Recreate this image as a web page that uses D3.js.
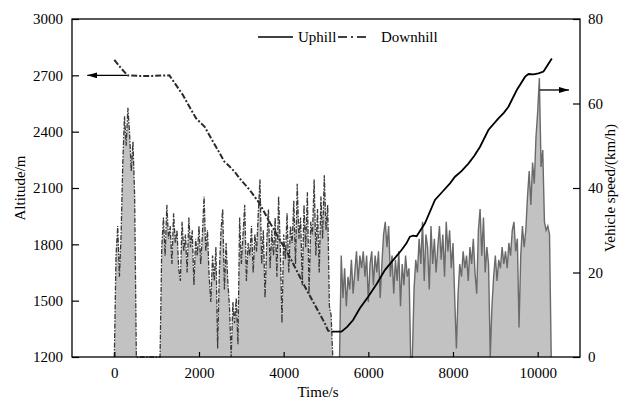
<!DOCTYPE html>
<html>
<head>
<meta charset="utf-8">
<script src="https://cdn.jsdelivr.net/npm/d3@7"></script>
<style>
  body { margin: 0; background: #fff; }
</style>
</head>
<body>
<div id="chart"></div>
<script>
const width = 626
const height = 401
const margin = { top: 19, bottom: 44, left: 72, right: 46 }
const serif = "Liberation Serif, Times New Roman, serif"

// time ticks and axis ranges
const timeTicks = [0, 2000, 4000, 6000, 8000, 10000]
const altTicks = [1200, 1500, 1800, 2100, 2400, 2700, 3000]
const speedTicks = [0, 20, 40, 60, 80]

// vehicle speed, km/h, one value every 40 s
const downSpeedStart = 0
const upSpeedStart = 5320
const speedStep = 40
const downSpeed = [
  0, 24, 31, 19, 29, 46, 57, 50, 59, 53, 44, 51, 38, 0,
  0, 0, 0, 0, 0, 0, 0, 0, 0, 0, 0, 0, 0, 0,
  26, 33, 24, 36, 28, 31, 22, 34, 27, 30, 21, 18, 32, 25, 29, 20, 33, 26, 30, 17,
  28, 24, 31, 22, 29, 38, 25, 30, 19, 13, 24, 18, 26, 2, 20, 30, 35, 16, 27, 18,
  12, 0, 13, 8, 14, 3, 33, 22, 29, 36, 18, 27, 24, 31, 20, 29, 25, 34, 42, 22,
  30, 14, 27, 35, 21, 30, 24, 33, 19, 38, 26, 8, 29, 23, 34, 20, 31, 27, 37, 22,
  41, 28, 33, 17, 36, 26, 39, 15, 32, 29, 42, 24, 35, 20, 38, 28, 43, 30, 36, 12,
  10, 0
]
const upSpeed = [
  0, 24, 14, 21, 12, 19, 16, 23, 15, 20, 25, 18, 24, 21, 25, 19, 24, 13, 22, 25,
  17, 24, 20, 25, 14, 22, 29, 32, 26, 31, 19, 24, 15, 23, 18, 25, 12, 22, 17, 24,
  19, 21, 0, 0, 16, 23, 20, 28, 22, 32, 18, 29, 26, 16, 31, 22, 28, 20, 26, 31,
  23, 29, 19, 32, 25, 30, 21, 27, 14, 2, 15, 22, 19, 25, 21, 24, 18, 26, 22, 28,
  20, 15, 30, 35, 24, 33, 20, 26, 22, 0, 12, 19, 24, 18, 23, 21, 26, 22, 25, 21,
  27, 24, 30, 32, 25, 28, 7, 24, 31, 26, 30, 38, 44, 36, 46, 41, 52, 58, 66, 45,
  49, 32, 30, 31, 29, 0
]

// altitude, m
const downAltTime = [0, 150, 310, 600, 900, 1300, 1620, 1930, 2130, 2400, 2600, 2700, 2840, 3000, 3200, 3430, 3700, 4140, 4500, 4970, 5050, 5130]
const downAlt = [2782, 2740, 2700, 2697, 2697, 2700, 2595, 2471, 2427, 2320, 2240, 2220, 2187, 2140, 2089, 2018, 1905, 1734, 1575, 1380, 1340, 1335]
const upAltTime = [5130, 5365, 5500, 5640, 5800, 5996, 6200, 6391, 6600, 6785, 6900, 6982, 7060, 7140, 7337, 7574, 7750, 7929, 8047, 8200, 8363, 8500, 8639, 8836, 9073, 9200, 9310, 9507, 9704, 9783, 9900, 10020, 10138, 10335]
const upAlt = [1335, 1335, 1360, 1397, 1460, 1521, 1590, 1663, 1720, 1770, 1805, 1841, 1846, 1843, 1912, 2036, 2080, 2125, 2160, 2190, 2230, 2270, 2320, 2409, 2471, 2500, 2533, 2622, 2693, 2707, 2705, 2710, 2720, 2790]

const svg = d3.select("#chart").append("svg")
  .attr("width", width)
  .attr("height", height)

let x = d3.scaleLinear().domain([-1000, 11000]).range([margin.left, width - margin.right])
let yAlt = d3.scaleLinear().domain([1200, 3000]).range([height - margin.bottom, margin.top])
let ySpeed = d3.scaleLinear().domain([0, 80]).range([height - margin.bottom, margin.top])

const toPoints = (vals, start) => vals.map((v, i) => ({ t: start + i * speedStep, v: v }))
const downPts = toPoints(downSpeed, downSpeedStart)
const upPts = toPoints(upSpeed, upSpeedStart)

let area = d3.area().x(d => x(d.t)).y0(ySpeed(0)).y1(d => ySpeed(d.v))
let speedLine = d3.line().x(d => x(d.t)).y(d => ySpeed(d.v))
let altLine = d3.line().x(d => x(d[0])).y(d => yAlt(d[1]))

let elementGroup = svg.append("g")

// speed areas
elementGroup.append("path").datum(downPts).attr("d", area).attr("fill", "#c2c2c2")
elementGroup.append("path").datum(upPts).attr("d", area).attr("fill", "#c2c2c2")

// speed lines
elementGroup.append("path").datum(downPts).attr("d", speedLine)
  .attr("fill", "none").attr("stroke", "#3a3a3a").attr("stroke-width", 1.3)
  .attr("stroke-dasharray", "5,1.5,1.5,1.5")
elementGroup.append("path").datum(upPts).attr("d", speedLine)
  .attr("fill", "none").attr("stroke", "#6a6a6a").attr("stroke-width", 1.4)

// altitude lines
elementGroup.append("path").datum(downAltTime.map((t, i) => [t, downAlt[i]])).attr("d", altLine)
  .attr("fill", "none").attr("stroke", "#2a2a2a").attr("stroke-width", 2)
  .attr("stroke-dasharray", "6,2,2,2")
elementGroup.append("path").datum(upAltTime.map((t, i) => [t, upAlt[i]])).attr("d", altLine)
  .attr("fill", "none").attr("stroke", "#000").attr("stroke-width", 1.8)

// arrows showing which axis each series uses
svg.append("defs").append("marker").attr("id", "head")
  .attr("viewBox", "0 0 10 6").attr("refX", 10).attr("refY", 3)
  .attr("markerWidth", 10).attr("markerHeight", 6).attr("markerUnits", "userSpaceOnUse")
  .attr("orient", "auto")
  .append("path").attr("d", "M0,0L10,3L0,6Z").attr("fill", "#000")

svg.append("line")
  .attr("x1", x(300)).attr("x2", x(-640))
  .attr("y1", yAlt(2700)).attr("y2", yAlt(2700))
  .attr("stroke", "#000").attr("stroke-width", 1.3).attr("marker-end", "url(#head)")
svg.append("line")
  .attr("x1", x(10050)).attr("x2", x(10740))
  .attr("y1", ySpeed(63.2)).attr("y2", ySpeed(63.2))
  .attr("stroke", "#000").attr("stroke-width", 1.3).attr("marker-end", "url(#head)")

// axes
let axisGroup = svg.append("g")
let xAxisGroup = axisGroup.append("g").attr("transform", `translate(0, ${height - margin.bottom})`)
let yAxisGroup = axisGroup.append("g").attr("transform", `translate(${margin.left}, 0)`)
let y2AxisGroup = axisGroup.append("g").attr("transform", `translate(${width - margin.right}, 0)`)

xAxisGroup.call(d3.axisBottom(x).tickValues(timeTicks).tickFormat(d3.format("d"))
  .tickSizeInner(-5).tickSizeOuter(0).tickPadding(10))
yAxisGroup.call(d3.axisLeft(yAlt).tickValues(altTicks).tickFormat(d3.format("d"))
  .tickSizeInner(-7).tickSizeOuter(0).tickPadding(9))
y2AxisGroup.call(d3.axisRight(ySpeed).tickValues(speedTicks).tickFormat(d3.format("d"))
  .tickSizeInner(-7).tickSizeOuter(0).tickPadding(8))

axisGroup.selectAll(".domain").remove()
axisGroup.selectAll("g").attr("font-family", serif).attr("font-size", 15)
axisGroup.selectAll("text").attr("fill", "#000")
axisGroup.selectAll(".tick line").attr("stroke", "#000").attr("stroke-width", 1.2)

// frame
svg.append("rect")
  .attr("x", margin.left).attr("y", margin.top)
  .attr("width", width - margin.left - margin.right)
  .attr("height", height - margin.top - margin.bottom)
  .attr("fill", "none").attr("stroke", "#000").attr("stroke-width", 1.3)

// axis titles
let titles = svg.append("g").attr("font-family", serif).attr("font-size", 15).attr("fill", "#000")
titles.append("text").attr("x", 318).attr("y", 397).attr("text-anchor", "middle").text("Time/s")
titles.append("text").attr("transform", "translate(25, 188) rotate(-90)").attr("text-anchor", "middle")
  .text("Altitude/m")
titles.append("text").attr("transform", "translate(615, 188) rotate(-90)").attr("text-anchor", "middle")
  .text("Vehicle speed/(km/h)")

// legend
let legend = svg.append("g").attr("font-family", serif).attr("font-size", 15)
legend.append("line").attr("x1", 258).attr("x2", 293).attr("y1", 37).attr("y2", 37)
  .attr("stroke", "#000").attr("stroke-width", 1.6)
legend.append("text").attr("x", 298).attr("y", 42).text("Uphill")
legend.append("line").attr("x1", 338).attr("x2", 370).attr("y1", 37).attr("y2", 37)
  .attr("stroke", "#000").attr("stroke-width", 1.6).attr("stroke-dasharray", "9,4,2,4")
legend.append("text").attr("x", 381).attr("y", 42).text("Downhill")
</script>
</body>
</html>
